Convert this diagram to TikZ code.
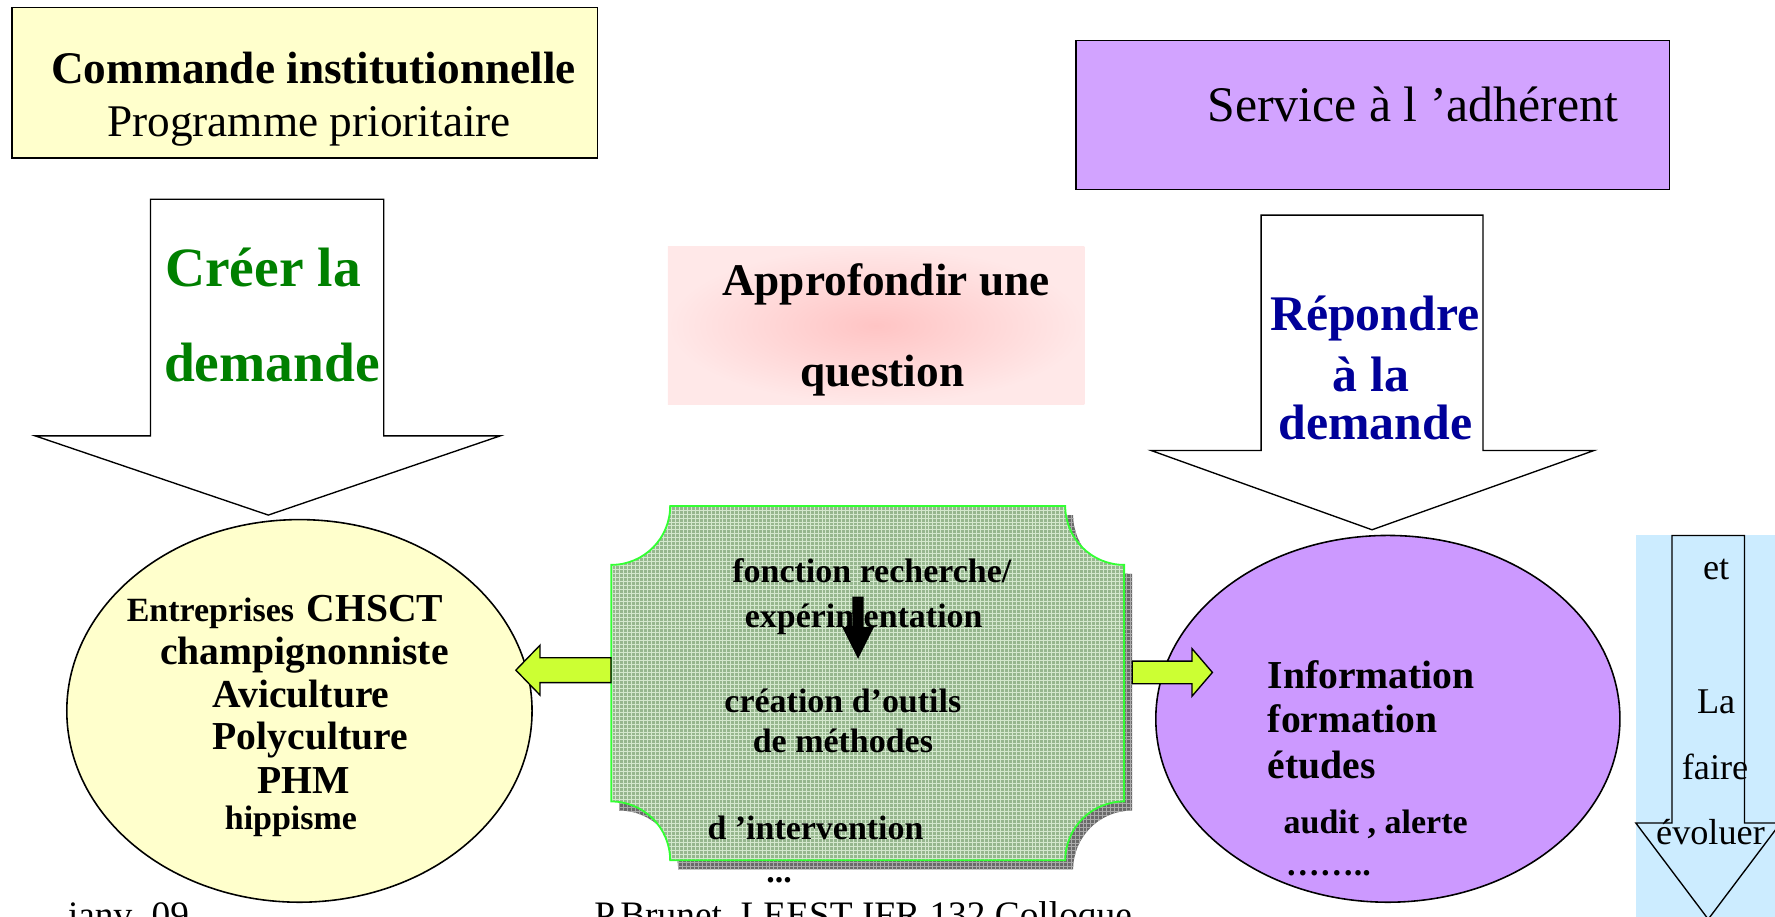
\documentclass[tikz,border=0pt]{standalone}
\usepackage{fontspec}
\setmainfont{Liberation Serif}
\usetikzlibrary{shapes.geometric,calc}
\definecolor{lyellow}{RGB}{255,255,204}
\definecolor{lpurple}{RGB}{210,163,255}
\definecolor{epurple}{RGB}{204,153,255}
\definecolor{pinkin}{RGB}{255,196,196}
\definecolor{pinkout}{RGB}{255,232,232}
\definecolor{dgreen}{RGB}{0,128,0}
\definecolor{dblue}{RGB}{0,0,153}
\definecolor{lime}{RGB}{204,255,51}
\definecolor{lblue}{RGB}{204,236,255}
\definecolor{plaquefill}{RGB}{150,182,142}
\definecolor{plaquegrid}{RGB}{212,232,206}
\definecolor{shadowfill}{RGB}{105,105,105}
\definecolor{shadowgrid}{RGB}{170,170,170}
\definecolor{brightgreen}{RGB}{51,255,51}
\newcommand\fsz[1]{\fontsize{#1}{#1}\selectfont}
\newcommand\plaquepath[2]{%
  (592+#1,447+#2) -- (941+#1,447+#2)
  .. controls (941+#1,475.7+#2) and (964.3+#1,499+#2) .. (993+#1,499+#2)
  -- (993+#1,708+#2)
  .. controls (964.3+#1,708+#2) and (941+#1,731.3+#2) .. (941+#1,760+#2)
  -- (592+#1,760+#2)
  .. controls (592+#1,731.3+#2) and (568.7+#1,708+#2) .. (540+#1,708+#2)
  -- (540+#1,499+#2)
  .. controls (568.7+#1,499+#2) and (592+#1,475.7+#2) .. (592+#1,447+#2) -- cycle}
\newcommand\gridlines[4]{% x0 x1 y0 y1
  \foreach \gi in {0,...,136} {\draw (#1+3.5*\gi,#3) -- (#1+3.5*\gi,#4);}
  \foreach \gi in {0,...,99} {\draw (#1,#3+3.5*\gi) -- (#2,#3+3.5*\gi);}}
\tikzset{
  txt/.style={inner sep=0pt, outer sep=0pt},
  box/.style={draw=black, line width=1.1, inner sep=0pt, anchor=north west},
  bigarrow/.style={draw=black, line width=1.2, fill=white},
  limearrow/.style={draw=black, line width=1.2, fill=lime, line join=miter},
  oval/.style={draw=black, line width=1.4, ellipse, inner sep=0pt},
}
\begin{document}
\begin{tikzpicture}[x=1pt,y=-1pt]
\useasboundingbox (0,0) rectangle (1568,810);
\clip (0,0) rectangle (1568,810);

% top-left box
\node[box, fill=lyellow, minimum width=517, minimum height=133] (cmdbox) at (10,6) {};
\node[txt, anchor=base, font=\bfseries\fsz{40}] (cmd1) at (277,74) {Commande institutionnelle};
\node[txt, anchor=base, font=\fsz{40}] (cmd2) at (273,121) {Programme prioritaire};

% top-right box
\node[box, fill=lpurple, minimum width=524, minimum height=132] (svcbox) at (950,35) {};
\node[txt, anchor=base, font=\fsz{44}] (svc) at (1248,107) {Service à l ’adhérent};

% left big arrow
\draw[bigarrow] (133,176) -- (339,176) -- (339,385) -- (442,385) -- (237,455) -- (31,385) -- (133,385) -- cycle;
\node[txt, anchor=base west, font=\bfseries\fsz{49}, text=dgreen] (creer1) at (146,253) {Créer la};
\node[txt, anchor=base west, font=\bfseries\fsz{49}, text=dgreen] (creer2) at (145,337) {demande};

% pink box
\path[shading=radial, inner color=pinkin, outer color=pinkout] (590,218) rectangle (958,357);
\node[txt, anchor=base, font=\bfseries\fsz{40}] (appro1) at (782.5,261) {Approfondir une};
\node[txt, anchor=base, font=\bfseries\fsz{40}] (appro2) at (779.5,341) {question};

% right big arrow
\draw[bigarrow] (1114,190) -- (1310,190) -- (1310,398) -- (1408,398) -- (1212,468) -- (1017,398) -- (1114,398) -- cycle;
\node[txt, anchor=base, font=\bfseries\fsz{44}, text=dblue] (rep1) at (1214.5,292) {Répondre};
\node[txt, anchor=base, font=\bfseries\fsz{44}, text=dblue] (rep2) at (1211,346) {à la};
\node[txt, anchor=base, font=\bfseries\fsz{44}, text=dblue] (rep3) at (1215,388) {demande};

% left ellipse
\node[oval, fill=lyellow, minimum width=411, minimum height=338] (ent) at (264.5,628) {};
\node[txt, anchor=base west, font=\bfseries\fsz{30}] (e1a) at (112,549) {Entreprises};
\node[txt, anchor=base west, font=\bfseries\fsz{35}] (e1b) at (271,549) {CHSCT};
\node[txt, anchor=base, font=\bfseries\fsz{35}] (e2) at (269,587) {champignonniste};
\node[txt, anchor=base, font=\bfseries\fsz{35}] (e3) at (266,625) {Aviculture};
\node[txt, anchor=base, font=\bfseries\fsz{35}] (e4) at (274,662) {Polyculture};
\node[txt, anchor=base, font=\bfseries\fsz{35}] (e5) at (268,701) {PHM};
\node[txt, anchor=base, font=\bfseries\fsz{30}] (e6) at (257,733) {hippisme};

% right ellipse
\node[oval, fill=epurple, minimum width=410, minimum height=324] (info) at (1226,635) {};
\node[txt, anchor=base west, font=\bfseries\fsz{35}] (i1) at (1120,608) {Information};
\node[txt, anchor=base west, font=\bfseries\fsz{35}] (i2) at (1120,647) {formation};
\node[txt, anchor=base west, font=\bfseries\fsz{35}] (i3) at (1120,688) {études};
\node[txt, anchor=base west, font=\bfseries\fsz{30}] (i4) at (1134,736) {audit , alerte};
\node[txt, anchor=base west, font=\bfseries\fsz{30}] (i5) at (1136,773) {……..};

% central plaque: shadow
\begin{scope}
  \clip \plaquepath{7}{8};
  \fill[shadowfill] (540,440) rectangle (1010,780);
  \begin{scope}[shadowgrid, line width=0.5]
    \gridlines{540}{1010}{440}{780}
  \end{scope}
\end{scope}
% central plaque: body
\begin{scope}
  \clip \plaquepath{0}{0};
  \fill[plaquefill] (530,440) rectangle (1000,770);
  \begin{scope}[plaquegrid, line width=0.6]
    \gridlines{530}{1000}{440}{770}
  \end{scope}
\end{scope}
\draw[brightgreen, line width=1.6] \plaquepath{0}{0};
\node[minimum width=453, minimum height=313, inner sep=0pt] (plaque) at (766.5,603.5) {};
\node[txt, anchor=base west, font=\bfseries\fsz{30}] (p1) at (647,515) {fonction recherche/};
\node[txt, anchor=base west, font=\bfseries\fsz{30}] (p2) at (658,554) {expérimentation};
\fill[black] (753,527) -- (763,527) -- (763,554) -- (772,554) -- (758,582) -- (744,554) -- (753,554) -- cycle;
\node[txt, anchor=base west, font=\bfseries\fsz{30}] (p3) at (640,629) {création d’outils};
\node[txt, anchor=base west, font=\bfseries\fsz{30}] (p4) at (665,665) {de méthodes};
\node[txt, anchor=base west, font=\bfseries\fsz{30}] (p5) at (625,742) {d ’intervention};
\node[txt, anchor=base west, font=\bfseries\fsz{30}] (p6) at (677,780) {...};

% lime connectors
\draw[limearrow] (plaque.west |- 0,581) -- (477,581) -- (477,570) -- ($(ent.east |- 0,592)+(-15,0)$) -- (477,614) -- (477,603) -- (plaque.west |- 0,603) -- cycle;
\draw[limearrow] ($(plaque.east |- 0,584)+(7,0)$) -- (1053,584) -- (1053,573) -- (1071,594) -- (1053,615) -- (1053,604) -- ($(plaque.east |- 0,604)+(7,0)$) -- cycle;

% far-right panel
\fill[lblue] (1445,473) rectangle (1568,810);
\draw[draw=black, line width=1.2, fill=lblue] (1477,473) -- (1541,473) -- (1541,727) -- (1573,727) -- (1509,812) -- (1445,727) -- (1477,727) -- cycle;
\node[txt, anchor=base, font=\fsz{32}] (f1) at (1516,512) {et};
\node[txt, anchor=base, font=\fsz{32}] (f2) at (1516,630) {La};
\node[txt, anchor=base, font=\fsz{32}] (f3) at (1515,689) {faire};
\node[txt, anchor=base, font=\fsz{32}] (f4) at (1511,746) {évoluer};

% footer
\node[txt, anchor=base west, font=\fsz{33}] (date) at (60,819) {janv. 09};
\node[txt, anchor=base west, font=\fsz{33}] (auth) at (525,819) {P.Brunet, LEEST IFR 132 Colloque};
\end{tikzpicture}
\end{document}
